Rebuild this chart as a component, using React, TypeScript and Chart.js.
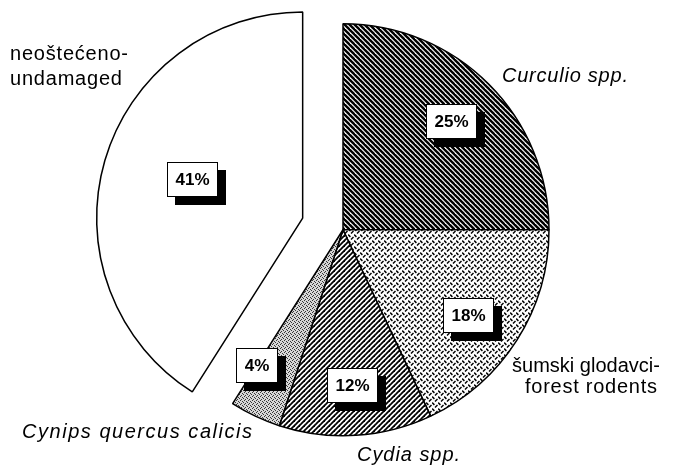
import React, { useEffect, useRef } from "react";
import { Chart, registerables, ArcElement, PieController } from "chart.js";

Chart.register(...registerables);

// ---- data ----
const categories = [
  "Curculio spp.",
  "šumski glodavci-forest rodents",
  "Cydia spp.",
  "Cynips quercus calicis",
  "neoštećeno-undamaged",
];
const shares = [25, 18, 12, 4, 41];
const percentLabels = ["25%", "18%", "12%", "4%", "41%"];
const explodeOffsets = [0, 0, 0, 0, 42];

// ---- label layout (style, not data) ----
const labelSpanPos = [0.5, 0.53, 0.5, 1.0, 0.52];
const labelRadiusFrac = [0.745, 0.735, 0.757, 0.78, 0.566];

type OuterLabel = { text: string; x: number; y: number; w: number; italic: boolean };
const outerLabels: OuterLabel[] = [
  { text: "neoštećeno-", x: 10, y: 60, w: 118, italic: false },
  { text: "undamaged", x: 10, y: 85, w: 112, italic: false },
  { text: "Curculio spp.", x: 502, y: 82, w: 126, italic: true },
  { text: "šumski glodavci-", x: 512, y: 372, w: 148, italic: false },
  { text: "forest rodents", x: 525, y: 393, w: 132, italic: false },
  { text: "Cynips quercus calicis", x: 22, y: 438, w: 230, italic: true },
  { text: "Cydia spp.", x: 357, y: 461, w: 103, italic: true },
];

class ExplodedArc extends (ArcElement as any) {
  static id = "explodedArc";
  draw(ctx: CanvasRenderingContext2D) {
    const self: any = this;
    const off = (self.options && self.options.offset) || 0;
    if (!off) {
      ArcElement.prototype.draw.call(self, ctx);
      return;
    }
    const mid = (self.startAngle + self.endAngle) / 2;
    const shim = Object.create(self);
    shim.options = { ...self.options, offset: 0 };
    ctx.save();
    ctx.translate(Math.cos(mid) * off, Math.sin(mid) * off);
    ArcElement.prototype.draw.call(shim, ctx);
    ctx.restore();
  }
}

class ExplodedPieController extends (PieController as any) {
  static id = "explodedPie";
  static defaults = { dataElementType: "explodedArc" };
}

Chart.register(ExplodedArc as any, ExplodedPieController as any);

function makePattern(size: number, draw: (g: CanvasRenderingContext2D, s: number) => void) {
  const c = document.createElement("canvas");
  c.width = size;
  c.height = size;
  const g = c.getContext("2d")!;
  draw(g, size);
  return g.createPattern(c, "repeat")!;
}

function buildPatterns() {
  const back = makePattern(5, (g, s) => {
    g.fillStyle = "#fff";
    g.fillRect(0, 0, s, s);
    g.strokeStyle = "#000";
    g.lineWidth = 2.4;
    for (let k = -1; k <= 1; k++) {
      g.beginPath();
      g.moveTo(k * s - 1, -1);
      g.lineTo(k * s + s + 1, s + 1);
      g.stroke();
    }
  });
  const fwd = makePattern(5, (g, s) => {
    g.fillStyle = "#fff";
    g.fillRect(0, 0, s, s);
    g.strokeStyle = "#000";
    g.lineWidth = 1.8;
    for (let k = -1; k <= 1; k++) {
      g.beginPath();
      g.moveTo(k * s - 1, s + 1);
      g.lineTo(k * s + s + 1, -1);
      g.stroke();
    }
  });
  const zig = makePattern(6, (g, s) => {
    g.fillStyle = "#fff";
    g.fillRect(0, 0, s, s);
    g.strokeStyle = "#000";
    g.lineWidth = 1.5;
    g.beginPath();
    g.moveTo(0, 0.5);
    g.lineTo(2.4, 2.9);
    g.stroke();
    g.beginPath();
    g.moveTo(3, 5.5);
    g.lineTo(5.5, 3);
    g.stroke();
  });
  const stipple = makePattern(4, (g, s) => {
    g.fillStyle = "#d6d6d6";
    g.fillRect(0, 0, s, s);
    g.fillStyle = "rgba(0,0,0,0.75)";
    g.fillRect(0, 0, 1, 1);
    g.fillRect(2, 1, 1, 1);
    g.fillRect(1, 3, 1, 1);
    g.fillRect(3, 2, 1, 1);
  });
  return [back, zig, fwd, stipple, "#ffffff"];
}

const labelPlugin = {
  id: "boxLabels",
  afterDatasetsDraw(chart: any) {
    const ctx: CanvasRenderingContext2D = chart.ctx;
    const meta = chart.getDatasetMeta(0);
    ctx.save();
    meta.data.forEach((arc: any, i: number) => {
      const span = arc.endAngle - arc.startAngle;
      const ang = arc.startAngle + span * labelSpanPos[i];
      const mid = (arc.startAngle + arc.endAngle) / 2;
      const off = explodeOffsets[i];
      const cx = arc.x + Math.cos(mid) * off;
      const cy = arc.y + Math.sin(mid) * off;
      const r = arc.outerRadius * labelRadiusFrac[i];
      const x = cx + Math.cos(ang) * r;
      const y = cy + Math.sin(ang) * r;
      ctx.font = "bold 17px 'Liberation Sans', Arial, sans-serif";
      const tw = ctx.measureText(percentLabels[i]).width;
      const bw = Math.round(tw + 17);
      const bh = 35;
      const bx = Math.round(x - bw / 2);
      const by = Math.round(y - bh / 2);
      ctx.fillStyle = "#000";
      ctx.fillRect(bx + 8, by + 8, bw, bh);
      ctx.fillStyle = "#fff";
      ctx.fillRect(bx, by, bw, bh);
      ctx.strokeStyle = "#000";
      ctx.lineWidth = 1;
      ctx.strokeRect(bx + 0.5, by + 0.5, bw - 1, bh - 1);
      ctx.fillStyle = "#000";
      ctx.textAlign = "center";
      ctx.textBaseline = "middle";
      ctx.fillText(percentLabels[i], bx + bw / 2, by + bh / 2 + 1);
    });

    ctx.textAlign = "left";
    ctx.textBaseline = "alphabetic";
    outerLabels.forEach((l) => {
      ctx.font = `${l.italic ? "italic " : ""}20px 'Liberation Sans', Arial, sans-serif`;
      (ctx as any).letterSpacing = "0px";
      const nat = ctx.measureText(l.text).width;
      const ls = (l.w - nat) / Math.max(1, l.text.length - 1);
      (ctx as any).letterSpacing = `${ls.toFixed(2)}px`;
      ctx.fillStyle = "#000";
      ctx.fillText(l.text, l.x, l.y);
      (ctx as any).letterSpacing = "0px";
    });
    ctx.restore();
  },
};

export default function App() {
  const ref = useRef<HTMLCanvasElement | null>(null);
  useEffect(() => {
    document.body.style.margin = "0";
    const canvas = ref.current!;
    const chart = new Chart(canvas, {
      type: "explodedPie" as any,
      data: {
        labels: categories,
        datasets: [
          {
            data: shares,
            backgroundColor: buildPatterns() as any,
            borderColor: "#000",
            borderWidth: 1.5,
            hoverBorderWidth: 1.5,
            hoverOffset: 0,
            offset: explodeOffsets,
          } as any,
        ],
      },
      options: {
        responsive: false,
        maintainAspectRatio: false,
        animation: false,
        devicePixelRatio: 1,
        events: [],
        layout: { padding: { left: 100, right: 89, top: 2, bottom: 9.5 } },
        plugins: {
          legend: { display: false },
          tooltip: { enabled: false },
        },
      } as any,
      plugins: [labelPlugin],
    });
    return () => chart.destroy();
  }, []);
  return (
    <div style={{ width: 675, height: 467, background: "#fff" }}>
      <canvas ref={ref} width={675} height={467} style={{ display: "block" }} />
    </div>
  );
}
